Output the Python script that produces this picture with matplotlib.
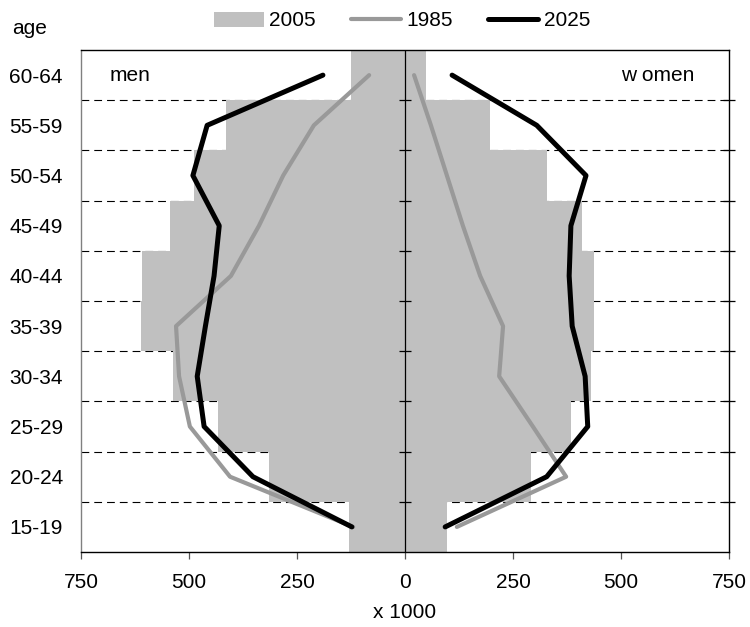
import numpy as np
import matplotlib
matplotlib.use("Agg")
import matplotlib.pyplot as plt

# age groups, bottom to top
ages = ["15-19", "20-24", "25-29", "30-34", "35-39",
        "40-44", "45-49", "50-54", "55-59", "60-64"]

# x 1000 persons
men_2005 = [130, 315, 433, 537, 611, 609, 544, 488, 414, 125]
women_2005 = [97, 291, 384, 430, 437, 437, 410, 329, 197, 49]

men_1985 = [120, 405, 498, 523, 530, 403, 338, 282, 211, 83]
women_1985 = [120, 373, 296, 218, 227, 174, 134, 97, 60, 21]

men_2025 = [123, 352, 465, 481, 462, 442, 430, 491, 458, 190]
women_2025 = [93, 328, 423, 417, 387, 380, 384, 419, 305, 109]

xticks = [-750, -500, -250, 0, 250, 500, 750]

plt.rcParams["font.family"] = ["Liberation Sans", "DejaVu Sans"]
plt.rcParams["font.size"] = 15

fig = plt.figure(figsize=(7.5, 6.27), dpi=100)
ax = fig.add_axes([0.108, 0.1196, 0.864, 0.8006])

y = np.arange(len(ages)) + 0.5
bar_col = "#c0c0c0"

# grid lines at bin edges, behind the bars
for k in range(1, len(ages)):
    ax.axhline(k, color="black", lw=0.8, ls=(0, (7, 4.5)), zorder=1)

h2005 = ax.barh(y, -np.array(men_2005), height=1.0, color=bar_col, zorder=2)
ax.barh(y, women_2005, height=1.0, color=bar_col, zorder=2)

ax.axvline(0, color="black", lw=0.9, zorder=3)
ax.plot(np.zeros(len(ages) - 1), np.arange(1, len(ages)), ls="none",
        marker="_", ms=9, mew=0.9, color="black", zorder=3)

gray = "#999999"
h1985, = ax.plot(-np.array(men_1985), y, color=gray, lw=3.0, zorder=4,
                 solid_capstyle="round")
ax.plot(women_1985, y, color=gray, lw=3.0, zorder=4, solid_capstyle="round")
h2025, = ax.plot(-np.array(men_2025), y, color="black", lw=3.6, zorder=5,
                 solid_capstyle="round")
ax.plot(women_2025, y, color="black", lw=3.6, zorder=5, solid_capstyle="round")

ax.set_xlim(-750, 750)
ax.set_ylim(0, len(ages))
ax.set_xticks(xticks)
ax.set_xticklabels([str(abs(v)) for v in xticks])
ax.set_yticks(y)
ax.set_yticklabels(ages)
ax.set_yticks(np.arange(1, len(ages)), minor=True)
ax.tick_params(axis="y", which="major", length=0, pad=13)
ax.tick_params(axis="y", which="minor", left=False, right=True,
               direction="inout", length=8, width=0.9)
ax.tick_params(axis="x", length=5, width=0.9, pad=10, color="#555555")

for s in ["top", "right", "bottom"]:
    ax.spines[s].set_linewidth(1.0)
ax.spines["left"].set_color("#808080")
ax.spines["left"].set_linewidth(1.0)

ax.set_xlabel("x 1000", labelpad=8)
ax.text(-683, 9.5, "men", ha="left", va="center")
ax.text(669, 9.5, "w omen", ha="right", va="center")
fig.text(12 / 750, 1 - 29 / 627, "age", ha="left", va="center")

fig.legend([h2005, h1985, h2025], ["2005", "1985", "2025"],
           loc="center", bbox_to_anchor=(402 / 750, 1 - 21 / 627), ncol=3,
           frameon=False, handlelength=2.4, handletextpad=0.25,
           columnspacing=1.7, borderpad=0, fontsize=15)

fig.savefig("out.png", dpi=100)
